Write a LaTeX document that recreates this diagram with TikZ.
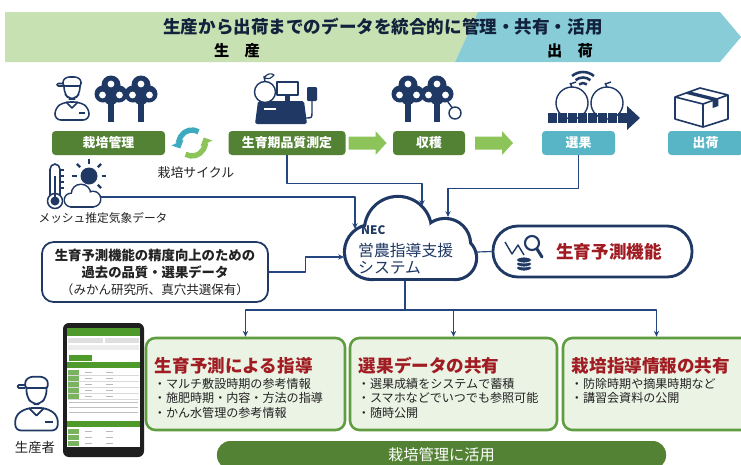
\documentclass[tikz,border=0pt]{standalone}
\usepackage{fontspec}
\setmainfont{Noto Sans CJK JP}
\usepackage{xcolor}
\usepackage{tikz}
\usetikzlibrary{arrows.meta, calc}

\definecolor{agNavy}{HTML}{1F3864}
\definecolor{agLine}{HTML}{24467E}
\definecolor{agGrow}{HTML}{548235}
\definecolor{agLeaf}{HTML}{8CC45A}
\definecolor{agShip}{HTML}{58B5C6}
\definecolor{agBand}{HTML}{C8E1B3}
\definecolor{agSea}{HTML}{88CCD7}
\definecolor{agPale}{HTML}{EBF3E4}
\definecolor{agFrame}{HTML}{609D40}
\definecolor{agRed}{HTML}{A01C22}
\definecolor{agInk}{HTML}{222222}
\definecolor{agCycle}{HTML}{3EAAC0}
\definecolor{agPhone}{HTML}{4E9A2A}

\tikzset{
  stagebox/.style={
    rounded corners=3pt, minimum height=7.2mm, inner sep=0pt,
    text=white, font=\fontsize{11}{13}\selectfont\bfseries
  },
  bannerhead/.style={font=\fontsize{15}{18}\selectfont\bfseries, text=agNavy!60!black, inner sep=0pt},
  bannersub/.style={font=\fontsize{13}{15}\selectfont\bfseries, text=black, inner sep=0pt},
  flow/.style={-{Stealth[length=5pt, width=4.5pt]}, line width=1pt, agLine},
  link/.style={line width=1pt, agLine},
  tag/.style={font=\fontsize{10}{12}\selectfont, text=agInk, inner sep=0pt},
  pastbox/.style={
    draw=agNavy, line width=1.5pt, rounded corners=10pt, fill=white,
    minimum width=6.78cm, minimum height=1.8cm, align=center, text=agInk,
    font=\fontsize{11.4}{14.5}\selectfont
  },
  systext/.style={font=\fontsize{13.5}{16}\selectfont, text=agNavy, inner sep=0pt, anchor=west},
  predictbox/.style={
    draw=agNavy, line width=2.4pt, rounded corners=7.5mm, fill=white,
    minimum width=5.97cm, minimum height=1.53cm
  },
  predicttext/.style={font=\fontsize{15}{18}\selectfont\bfseries, text=agRed, inner sep=0pt},
  sharebox/.style={draw=agFrame, line width=2.2pt, fill=agPale, rounded corners=8pt, minimum height=2.76cm},
  sharehead/.style={font=\fontsize{15}{18}\selectfont\bfseries, text=agRed, inner sep=0pt, anchor=west},
  shareitem/.style={font=\fontsize{10.3}{12}\selectfont, text=agInk, inner sep=0pt, anchor=west},
  usebox/.style={
    fill=agGrow, rounded corners=4mm, minimum width=13.47cm, minimum height=0.84cm,
    text=white, font=\fontsize{13}{15}\selectfont
  },
  farmer/.pic={
    \draw[rounded corners=2] (9,12) -- (9,6) -- (13,3) -- (23,3) -- (27,6) -- (27,12) -- cycle;
    \draw[rounded corners=1] (9,12) -- (3,12) -- (3,9.5) -- (9,9.5);
    \draw[rounded corners=5] (10,12) -- (10,19) -- (15,25) -- (21,25) -- (26,19) -- (26,12);
    \draw[rounded corners=5] (1,46) -- (1,34) -- (10,28) -- (26,28) -- (35,34) -- (35,46) -- cycle;
    \draw (12,28) -- (18,34) -- (24,28);
    \draw (25,39) -- (31,39);
  },
  tree/.pic={
    \fill (-2.6,0) rectangle (2.6,-21);
    \fill (0,-37) circle[radius=9.5] (-8,-28) circle[radius=8.5] (8,-28) circle[radius=8.5] (0,-24) circle[radius=7];
    \fill[white] (-8.5,-27) circle[radius=3.4] (8.5,-27) circle[radius=3.4] (0,-38) circle[radius=3.4];
  },
  stepflow/.pic={
    \fill[agLeaf] (-19,-6.5) -- (8,-6.5) -- (8,-12) -- (19,0) -- (8,12) -- (8,6.5) -- (-19,6.5) -- cycle;
  }
}

\begin{document}
\begin{tikzpicture}[x=0.03cm, y=-0.03cm, line join=round]
  \useasboundingbox (0,0) rectangle (741,464);

  % banner across the whole chain
  \fill[agBand] (5,12) -- (478,12) -- (455,62) -- (5,62) -- cycle;
  \fill[agSea] (478,12) -- (720,12) -- (741,37) -- (720,62) -- (455,62) -- cycle;
  \node[bannerhead] (slogan) at (383,27) {生産から出荷までのデータを統合的に管理・共有・活用};
  \node[bannersub] (growHead) at (237,51) {生　産};
  \node[bannersub] (shipHead) at (570,51) {出　荷};

  % icons over the stages
  \pic[agNavy, line width=1.3pt] at (54,74) {farmer};
  \foreach \tx in {111,141} \pic[agNavy] at (\tx,122) {tree};

  % register with scale
  \draw[agNavy, line width=1.4pt, fill=white] (277,82) rectangle (298,95);
  \fill[agNavy] (285,95) rectangle (290,101);
  \fill[agNavy, rounded corners=1.5] (258,101) -- (304,101) -- (307,124) -- (255,124) -- cycle;
  \draw[white, line width=1pt] (264,109) -- (276,109);
  \draw[agNavy, line width=1.2pt, fill=white] (265,92) circle[radius=10.5];
  \draw[agNavy, line width=1.2pt] (265,81.5) -- (264,76);
  \draw[agNavy, line width=1pt] (264,78) .. controls (267,73) and (272,73) .. (274,75) .. controls (270,79) .. (264,78);
  \fill[agNavy, rounded corners=1] (307,87) rectangle (317,101);
  \draw[agNavy, line width=1.2pt] (312,101) -- (312,112) .. controls (312,118) .. (305,118);

  % orchard at harvest
  \foreach \tx in {408,437} \pic[agNavy] at (\tx,122) {tree};
  \draw[agNavy, line width=1.2pt] (452,107.5) -- (448,102);
  \draw[agNavy, line width=1.2pt, fill=white] (455,113) circle[radius=6];

  % optical grader
  \foreach \mx in {572,607} {
    \draw[agNavy, line width=1.2pt, fill=white] (\mx,103) circle[radius=16];
    \draw[agNavy, line width=1.2pt] (\mx,87) -- (\mx-2,83) (\mx-2,84) -- (\mx+4,82);
  }
  \foreach \r in {6,11.5,17}
    \draw[agNavy, line width=2.2pt] (583,89) ++(-50:\r) arc[start angle=-50, end angle=-130, radius=\r];
  \foreach \i in {0,...,7} \fill[agNavy] ({548+10*\i},113) rectangle ++(8.8,10);
  \fill[agNavy] (627,106) -- (640,118) -- (627,130) -- cycle;

  % carton
  \begin{scope}[agNavy, line width=1.4pt]
    \draw (675,97) -- (700,88) -- (728,95) -- (703,104) -- cycle;
    \draw (675,97) -- (675,119) -- (703,127) -- (728,119) -- (728,95);
    \draw (703,104) -- (703,127);
    \fill (684.7,93.5) -- (690.3,91.5) -- (718.3,98.5) -- (718.3,106) -- (712.7,108) -- (712.7,100.5) -- cycle;
  \end{scope}

  % stages
  \foreach \name/\x/\w/\col/\label in {
    tend/108.5/113/agGrow/栽培管理,
    quality/287/117/agGrow/生育期品質測定,
    harvest/429/72/agGrow/収穫,
    select/578.5/73/agShip/選果,
    ship/705.5/75/agShip/出荷}
    \node[stagebox, fill=\col, minimum width=\w*0.03cm] (\name) at (\x,143) {\label};
  \pic at (367.5,143) {stepflow};
  \pic at (494,143) {stepflow};

  % cultivation cycle
  \draw[agCycle, line width=4.6pt, -{Triangle[length=5.5pt, width=11pt]}]
    (192,143) ++(-60:13) arc[start angle=-60, end angle=-205, radius=13];
  \draw[agLeaf, line width=4.6pt, -{Triangle[length=5.5pt, width=11pt]}]
    (192,143) ++(-240:13) arc[start angle=-240, end angle=-385, radius=13];
  \node[tag, font=\fontsize{11}{13}\selectfont] (cycleLabel) at (196,173) {栽培サイクル};

  % weather data
  \draw[agNavy, line width=1.3pt, fill=white, rounded corners=4.5] (50,196) -- (50,164) -- (60,164) -- (60,196);
  \draw[agNavy, line width=1.3pt, fill=white] (55,201) circle[radius=7.5];
  \fill[agNavy] (55,201) circle[radius=4.5];
  \fill[agNavy] (53.6,176) rectangle (56.4,200);
  \foreach \yy in {170,176,182,188} \draw[agNavy, line width=0.9pt] (60,\yy) -- (64,\yy);
  \fill[agNavy] (89,176) circle[radius=8.5];
  \foreach \a in {0,45,90,135,180,315}
    \draw[agNavy, line width=2pt] (89,176) ++(-\a:12.5) -- ++(-\a:4.5);
  \foreach \cx/\cy/\r in {71/200/6, 81/194/9, 93/199/7}
    \draw[agNavy, line width=2.6pt] (\cx,\cy) circle[radius=\r];
  \draw[agNavy, line width=2.6pt] (71,199) rectangle (93,206);
  \foreach \cx/\cy/\r in {71/200/6, 81/194/9, 93/199/7}
    \fill[white] (\cx,\cy) circle[radius=\r];
  \fill[white] (71,199) rectangle (93,206);
  \coordinate (weather) at (101,197);
  \node[tag] (meshLabel) at (103,218) {メッシュ推定気象データ};

  % support system cloud
  \foreach \cx/\cy/\r in {372/252/26, 398/230/32, 445/244/24, 455/258/20}
    \draw[agNavy, line width=5.4pt] (\cx,\cy) circle[radius=\r];
  \draw[agNavy, line width=5.4pt] (372,245) rectangle (455,278);
  \foreach \cx/\cy/\r in {372/252/26, 398/230/32, 445/244/24, 455/258/20}
    \fill[white] (\cx,\cy) circle[radius=\r];
  \fill[white] (372,245) rectangle (455,278);
  \node[systext, font=\fontsize{10}{12}\selectfont\bfseries] (sysBrand) at (361,230) {NEC};
  \node[systext] (sys) at (358,250) {営農指導支援};
  \node[systext] (sysSub) at (358,268) {システム};
  \coordinate (sysA) at (422,206);
  \coordinate (sysB) at (448,217);
  \coordinate (sysC) at (355,229);
  \coordinate (sysD) at (344,257);
  \coordinate (sysE) at (477,252);
  \coordinate (sysF) at (405,281);

  % past records
  \node[pastbox] (past) at (155,272)
    {{\bfseries 生育予測機能の精度向上のための}\\
     {\bfseries 過去の品質・選果データ}\\
     {\fontsize{10.7}{14.5}\selectfont （みかん研究所、真穴共選保有）}};

  % growth prediction
  \node[predictbox] (predict) at (592.5,251.5) {};
  \node[predicttext] (predictName) at (609,252) {生育予測機能};
  \draw[agNavy, line width=1.2pt] (505,242) -- (512,254) -- (518,245) -- (524,255);
  \draw[agNavy, line width=1.8pt, fill=white] (532,243) circle[radius=7];
  \draw[agNavy, line width=2.6pt, line cap=round] (537,249) -- (542,257);
  \foreach \yy in {268,264,260}
    \filldraw[fill=agNavy, draw=white, line width=0.7pt] (524,\yy) ellipse[x radius=7.5, y radius=3];

  % data into the system
  \draw[flow] (quality.south) -- ++(0,28) -| (sysA);
  \draw[flow] (select.south) -- ++(0,33) -| (sysB);
  \draw[flow] (weather) -| (sysC);
  \draw[flow] (past.east) -- ++(37,0) |- (sysD);
  \draw[link] (sysE) -- (predict.west);

  % what the growers get back
  \foreach \name/\x/\w/\head/\items in {
    guide/245.5/199/{生育予測による指導}/{マルチ敷設時期の参考情報,施肥時期・内容・方法の指導,かん水管理の参考情報},
    share/453.5/207/{選果データの共有}/{選果成績をシステムで蓄積,スマホなどでいつでも参照可能,随時公開},
    info/656.5/187/{栽培指導情報の共有}/{防除時期や摘果時期など,講習会資料の公開}}{
    \node[sharebox, minimum width=\w*0.03cm] (\name) at (\x,384) {};
    \node[sharehead] (\name-head) at ($(\name.north west)+(10,29)$) {\head};
    \foreach \t [count=\k] in \items
      \node[shareitem] (\name-item\k) at ($(\name.north west)+(9,{32.5+14.5*\k})$) {・\t};
  }
  \coordinate (hub) at (405,310);
  \draw[link] (sysF) -- (hub);
  \foreach \b in {guide,share,info}
    \draw[flow] (hub) -| (\b.north);

  % grower and phone app
  \pic[agNavy, line width=1.5pt, scale=1.25] at (14,373) {farmer};
  \node[tag, font=\fontsize{11.4}{13}\selectfont] (growerLabel) at (35,447) {生産者};
  \fill[black!88, rounded corners=5] (63,323) rectangle (144,457);
  \fill[white] (67,328) rectangle (140,447);
  \fill[agPhone] (67,328) rectangle (140,336);
  \fill[gray!25] (68,338) rectangle (103,343);
  \fill[gray!25] (105,338) rectangle (139,343);
  \fill[gray!15] (68,345) rectangle (139,350);
  \fill[agPhone] (69,355) rectangle (92,361);
  \fill[agPhone] (67,362) rectangle (140,368);
  \foreach \i in {0,...,4} {
    \fill[agPhone!75] (68,{370+6*\i}) rectangle (79,{375+6*\i});
    \draw[gray!30, line width=0.3pt] (68,{375.5+6*\i}) -- (139,{375.5+6*\i});
    \draw[gray!55, line width=0.6pt] (85,{372.5+6*\i}) -- (92,{372.5+6*\i}) (106,{372.5+6*\i}) -- (113,{372.5+6*\i});
  }
  \foreach \yy in {402,407,412}
    \draw[gray!50, line width=0.4pt] (69,\yy) -- (138,\yy);
  \fill[agPhone] (67,421) rectangle (140,427);
  \foreach \i in {0,1,2} {
    \fill[agPhone!75] (68,{429+6*\i}) rectangle (79,{434+6*\i});
    \draw[gray!55, line width=0.6pt] (85,{431.5+6*\i}) -- (92,{431.5+6*\i}) (106,{431.5+6*\i}) -- (113,{431.5+6*\i});
  }

  % use in cultivation
  \node[usebox] (apply) at (441.5,455) {栽培管理に活用};
\end{tikzpicture}
\end{document}
